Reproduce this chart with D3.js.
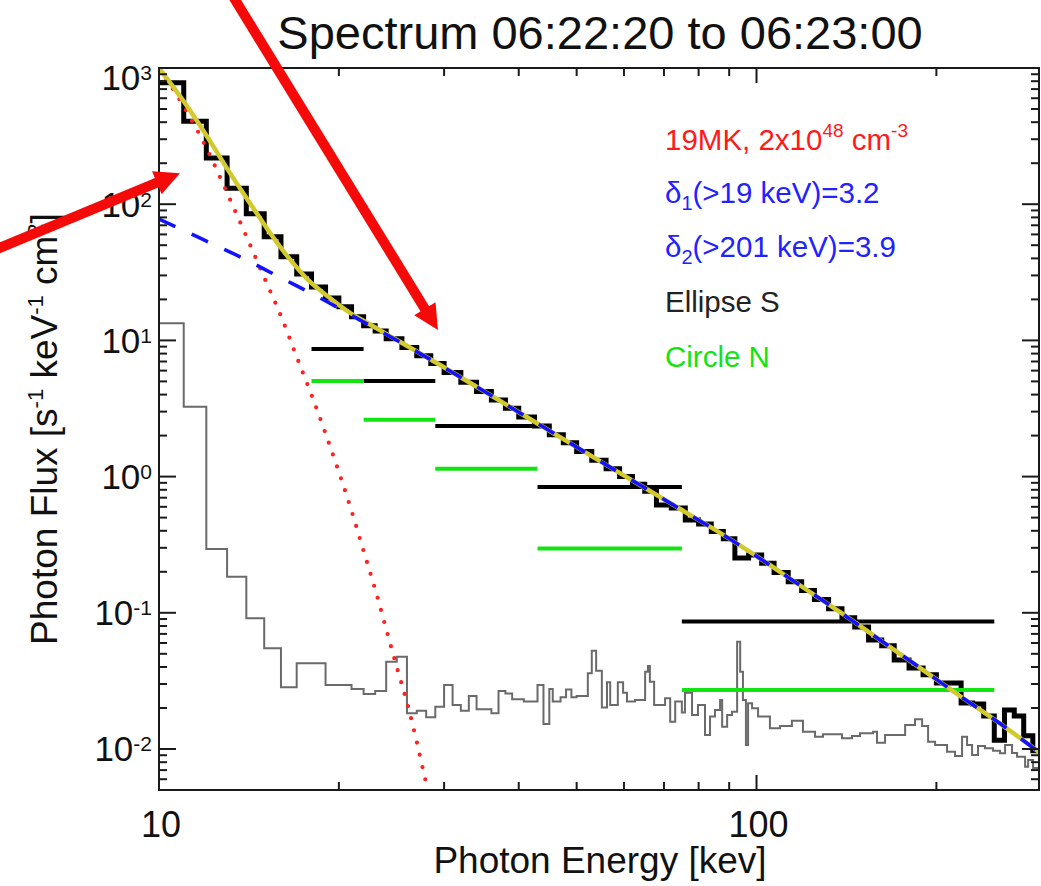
<!DOCTYPE html>
<html>
<head>
<meta charset="utf-8">
<script src="https://cdn.jsdelivr.net/npm/d3@7"></script>
<style>
  html, body { margin: 0; padding: 0; background: #fff; }
  svg { display: block; font-family: "Liberation Sans", Arial, Helvetica, sans-serif; }
</style>
</head>
<body>
<svg id="chart" width="1041" height="886"></svg>
<script>
// ---------------- data ----------------
// Observed photon spectrum (bin edges in keV, flux per bin)
const obsEdges = [10,11,12,13,14,15,16,17,18,19,20,21,22,23,24,25.5,27,28.5,30,32,34,36,38,40,42.5,45,47.5,50,53,56,59,62,65,68,72,76,80,84,88,92,97,102,107,113,119,125,132,139,146,154,162,170,180,190,200,210,220,230,240,250,260,270,280,290,300];
const obsFlux = [778,406,218,131,85,57.7,41.2,30.7,24.7,20.5,17.7,14.9,12.8,11.7,10.3,8.88,7.72,6.76,5.81,4.92,4.22,3.65,3.17,2.74,2.35,2.03,1.77,1.53,1.32,1.14,1.00,0.880,0.779,0.619,0.588,0.480,0.449,0.396,0.350,0.2525,0.266,0.231,0.198,0.169,0.146,0.125,0.107,0.0918,0.0785,0.0631,0.0574,0.0450,0.0393,0.0351,0.0305,0.0305,0.0218,0.0214,0.0175,0.0116,0.0193,0.0175,0.0125,0.0097];

// Background spectrum (bin edges in keV, flux per bin)
const bgEdges = [10,11,12,13,14,15,16,17,19,21,22,23,24,25,26,27,28,29,30,31,32,33,34,36,37,38,39,40.8,43,44,45,45.6,47,48,49,50,52.2,53,53.9,55.1,56.2,56.9,58.6,59.8,60.7,62.6,65.1,65.8,66.3,67.4,70.3,71.7,73.1,75,75.9,78,79.8,82,83.6,85.2,86.9,87.6,89.3,91,92.8,93.9,94.9,96,96.8,98.3,100.6,105.3,109.5,114.6,119.6,125.3,129.2,139,144.5,149,156.7,159.1,164.1,177.3,184.2,189.3,193.7,199,208.4,214.9,220.8,225.1,229.5,234.8,241.2,248.8,255.6,260.6,267.7,272.9,281.5,284.8,290.3,297];
const bgFlux = [13.35,3.26,0.294,0.184,0.0911,0.0549,0.0284,0.0426,0.0295,0.0276,0.0253,0.0267,0.0438,0.0476,0.0183,0.0191,0.0171,0.0204,0.0295,0.0210,0.0191,0.0245,0.0196,0.0183,0.0267,0.0256,0.0232,0.0223,0.0295,0.01526,0.0276,0.0223,0.0240,0.0274,0.0240,0.0245,0.0360,0.0527,0.0376,0.0202,0.0309,0.0210,0.0309,0.0259,0.0223,0.0229,0.0369,0.0407,0.0312,0.0210,0.0236,0.01586,0.0223,0.0185,0.0259,0.0178,0.0210,0.01267,0.0173,0.0193,0.0229,0.01458,0.0178,0.0188,0.0614,0.0369,0.0229,0.01070,0.0217,0.0199,0.0173,0.01419,0.01475,0.01614,0.01340,0.01231,0.01282,0.01199,0.01246,0.01304,0.01340,0.01112,0.01267,0.01500,0.01652,0.01475,0.01131,0.01070,0.00955,0.00888,0.01231,0.01070,0.00903,0.01052,0.01012,0.00972,0.00930,0.01070,0.00935,0.00878,0.00741,0.00830,0.00725];

// Thermal component (19 MK)
const thermalE = [10,11,12,13,14,15,16,17,18,19,20,21,22,23,24,25,26,27,28,28.2];
const thermalFlux = [1000,521,260,121,58.2,28.9,15.1,7.57,3.97,2.07,1.08,0.560,0.284,0.149,0.0760,0.0399,0.0220,0.0113,0.00564,0.005];

// Non-thermal (broken power law) component
const nonthermalE = [10,11.7,13.7,15.9,18.6,21.7,25.3,29.5,34.5,40.2,46.9,54.7,63.8,74.5,86.9,101,118,138,161,188,219,256,297];
const nonthermalFlux = [77.8,56.5,40.9,29.2,20.5,14.1,9.73,6.60,4.40,2.93,1.95,1.30,0.868,0.578,0.386,0.253,0.160,0.101,0.0631,0.0393,0.0245,0.0153,0.0095];

// Total model
const fitE = [10,11.05,12.08,13.05,14.09,15.22,16.44,17.76,19.18,20.72,22.4,25.3,29.5,34.5,40.2,46.9,54.7,63.8,74.5,86.9,101,118,138,161,188,219,256,297];
const fitFlux = [1000,553,306,178,107,64.7,41.0,27.8,21.0,16.3,13.3,9.77,6.62,4.40,2.93,1.95,1.30,0.868,0.578,0.386,0.253,0.160,0.101,0.0631,0.0393,0.0245,0.0153,0.0095];

// Imaging bands: source fluxes
const bandEdges = [18,22,29,43,75,250];
const ellipseS = [8.65,5.04,2.35,0.839,0.0863];
const circleN = [5.04,2.61,1.14,0.297,0.0271];

// Axis ticks
const xMajorTicks = [10,100];
const xTickLabels = ["10","100"];
const yMajorTicks = [0.01,0.1,1,10,100,1000];
const yTickExponents = ["-2","-1","0","1","2","3"];

// Annotation arrows, [tail, tip] in (keV, flux)
const arrows = [
  [[5.21, 44.6], [10.84, 169]],
  [[13.1, 3738], [29.3, 11.9]]
];

// ---------------- layout ----------------
const svg = d3.select("#chart");
const plotLeft = 159, plotRight = 1039, plotTop = 68, plotBottom = 790;
const font = '"Liberation Sans", Arial, Helvetica, sans-serif';

const x = d3.scaleLog().domain([10, 297]).range([plotLeft, plotRight]);
const y = d3.scaleLog().domain([0.005, 1000]).range([plotBottom, plotTop]);

svg.append("defs").append("clipPath").attr("id", "plotClip")
  .append("rect").attr("x", plotLeft).attr("y", plotTop)
  .attr("width", plotRight - plotLeft).attr("height", plotBottom - plotTop);

const plot = svg.append("g").attr("clip-path", "url(#plotClip)");

function stepPoints(edges, values) {
  const pts = [];
  values.forEach((v, i) => { pts.push([edges[i], v]); pts.push([edges[i + 1], v]); });
  return pts;
}
const lineXY = d3.line().x(d => x(d[0])).y(d => y(d[1]));
const smoothXY = d3.line().x(d => x(d[0])).y(d => y(d[1])).curve(d3.curveMonotoneX);

// background
plot.append("path")
  .attr("d", lineXY(stepPoints(bgEdges, bgFlux)))
  .attr("fill", "none").attr("stroke", "#6a6a6a").attr("stroke-width", 2)
  .attr("stroke-linejoin", "miter");

// observed spectrum
plot.append("path")
  .attr("d", lineXY(stepPoints(obsEdges, obsFlux)))
  .attr("fill", "none").attr("stroke", "#000").attr("stroke-width", 5)
  .attr("stroke-linejoin", "miter");

// imaging band fluxes
function bandSegments(values, color) {
  plot.append("g").selectAll("line").data(values).join("line")
    .attr("x1", (d, i) => x(bandEdges[i]))
    .attr("x2", (d, i) => x(bandEdges[i + 1]))
    .attr("y1", d => y(d)).attr("y2", d => y(d))
    .attr("stroke", color).attr("stroke-width", 4);
}
bandSegments(ellipseS, "#000");
bandSegments(circleN, "#12e412");

// thermal component
plot.append("path")
  .attr("d", smoothXY(thermalE.map((e, i) => [e, thermalFlux[i]])))
  .attr("fill", "none").attr("stroke", "#ff2020").attr("stroke-width", 4.2)
  .attr("stroke-linecap", "round").attr("stroke-dasharray", "0 12.5");

// total model
plot.append("path")
  .attr("d", smoothXY(fitE.map((e, i) => [e, fitFlux[i]])))
  .attr("fill", "none").attr("stroke", "#d2c92e").attr("stroke-width", 4.5);

// non-thermal component
plot.append("path")
  .attr("d", smoothXY(nonthermalE.map((e, i) => [e, nonthermalFlux[i]])))
  .attr("fill", "none").attr("stroke", "#1212ff").attr("stroke-width", 3.6)
  .attr("stroke-dasharray", "18 18");

// ---------------- axes ----------------
const axes = svg.append("g").attr("stroke", "#1a1a1a").attr("stroke-width", 2);
axes.append("rect").attr("x", plotLeft).attr("y", plotTop)
  .attr("width", plotRight - plotLeft).attr("height", plotBottom - plotTop).attr("fill", "none");

// x ticks (bottom and top)
const xMinor = [];
[10, 100].forEach(dec => { for (let m = 2; m <= 9; m++) { const v = dec * m; if (v <= 297) xMinor.push(v); } });
xMajorTicks.forEach(v => {
  axes.append("line").attr("x1", x(v)).attr("x2", x(v)).attr("y1", plotBottom).attr("y2", plotBottom - 15);
  axes.append("line").attr("x1", x(v)).attr("x2", x(v)).attr("y1", plotTop).attr("y2", plotTop + 15);
});
xMinor.forEach(v => {
  axes.append("line").attr("x1", x(v)).attr("x2", x(v)).attr("y1", plotBottom).attr("y2", plotBottom - 8);
  axes.append("line").attr("x1", x(v)).attr("x2", x(v)).attr("y1", plotTop).attr("y2", plotTop + 8);
});

// y ticks (left and right)
const yMinor = [];
[0.001, 0.01, 0.1, 1, 10, 100].forEach(dec => {
  for (let m = 2; m <= 9; m++) { const v = dec * m; if (v >= 0.005 && v <= 1000) yMinor.push(v); }
});
yMajorTicks.forEach(v => {
  axes.append("line").attr("x1", plotLeft).attr("x2", plotLeft + 17).attr("y1", y(v)).attr("y2", y(v));
  axes.append("line").attr("x1", plotRight).attr("x2", plotRight - 17).attr("y1", y(v)).attr("y2", y(v));
});
yMinor.forEach(v => {
  axes.append("line").attr("x1", plotLeft).attr("x2", plotLeft + 8).attr("y1", y(v)).attr("y2", y(v));
  axes.append("line").attr("x1", plotRight).attr("x2", plotRight - 8).attr("y1", y(v)).attr("y2", y(v));
});

// tick labels
const labels = svg.append("g").attr("fill", "#111").style("font-family", font);
xMajorTicks.forEach((v, i) => {
  labels.append("text").attr("x", x(v) + 2).attr("y", 837)
    .attr("text-anchor", "middle").attr("font-size", 36).text(xTickLabels[i]);
});
yMajorTicks.forEach((v, i) => {
  // keep the top label inside the frame
  const ly = Math.max(y(v) + 12.5, plotTop + 22);
  const t = labels.append("text").attr("x", 152).attr("y", ly)
    .attr("text-anchor", "end").attr("font-size", 35);
  t.append("tspan").text("10");
  t.append("tspan").attr("font-size", 21).attr("dy", -10).text(yTickExponents[i]);
});

// titles
svg.append("text").attr("x", 600).attr("y", 49).attr("text-anchor", "middle")
  .attr("font-size", 47).attr("fill", "#111").style("font-family", font)
  .text("Spectrum 06:22:20 to 06:23:00");

svg.append("text").attr("x", 600).attr("y", 873).attr("text-anchor", "middle")
  .attr("font-size", 37).attr("fill", "#111").style("font-family", font)
  .text("Photon Energy [kev]");

const yTitle = svg.append("text")
  .attr("transform", "translate(57,429) rotate(-90)")
  .attr("text-anchor", "middle").attr("font-size", 37).attr("fill", "#111")
  .style("font-family", font);
yTitle.append("tspan").text("Photon Flux [s");
yTitle.append("tspan").attr("font-size", 22).attr("dy", -14).text("-1");
yTitle.append("tspan").attr("dy", 14).text(" keV");
yTitle.append("tspan").attr("font-size", 22).attr("dy", -14).text("-1");
yTitle.append("tspan").attr("dy", 14).text(" cm");
yTitle.append("tspan").attr("font-size", 22).attr("dy", -14).text("2");
yTitle.append("tspan").attr("dy", 14).text("]");

// ---------------- legend ----------------
const legend = svg.append("g").style("font-family", font).attr("font-size", 29.5);
const lx = 665;
const l1 = legend.append("text").attr("x", lx).attr("y", 150).attr("fill", "#ff1a1a");
l1.append("tspan").text("19MK, 2x10");
l1.append("tspan").attr("font-size", 19).attr("dy", -13).text("48");
l1.append("tspan").attr("dy", 13).text(" cm");
l1.append("tspan").attr("font-size", 19).attr("dy", -13).text("-3");

const l2 = legend.append("text").attr("x", lx).attr("y", 203).attr("fill", "#2222ff");
l2.append("tspan").text("δ");
l2.append("tspan").attr("font-size", 20).attr("dy", 7).text("1");
l2.append("tspan").attr("dy", -7).text("(>19 keV)=3.2");

const l3 = legend.append("text").attr("x", lx).attr("y", 257).attr("fill", "#2222ff");
l3.append("tspan").text("δ");
l3.append("tspan").attr("font-size", 20).attr("dy", 7).text("2");
l3.append("tspan").attr("dy", -7).text("(>201 keV)=3.9");

legend.append("text").attr("x", lx).attr("y", 312).attr("fill", "#222").text("Ellipse S");
legend.append("text").attr("x", lx).attr("y", 367).attr("fill", "#12e412").text("Circle N");

// ---------------- annotation arrows ----------------
const arrowG = svg.append("g").attr("fill", "#f50a0a").attr("stroke", "#f50a0a");
arrows.forEach(([tail, tip]) => {
  const x0 = x(tail[0]), y0 = y(tail[1]);
  const x1 = x(tip[0]), y1 = y(tip[1]);
  const len = Math.hypot(x1 - x0, y1 - y0);
  const ux = (x1 - x0) / len, uy = (y1 - y0) / len;
  const headLen = 25, headHalf = 12.5;
  const bx = x1 - ux * headLen, by = y1 - uy * headLen;
  arrowG.append("line").attr("x1", x0).attr("y1", y0)
    .attr("x2", bx + ux * 2).attr("y2", by + uy * 2).attr("stroke-width", 10);
  arrowG.append("path").attr("stroke", "none")
    .attr("d", `M${x1},${y1}L${bx - uy * headHalf},${by + ux * headHalf}L${bx + uy * headHalf},${by - ux * headHalf}Z`);
});
</script>
</body>
</html>
